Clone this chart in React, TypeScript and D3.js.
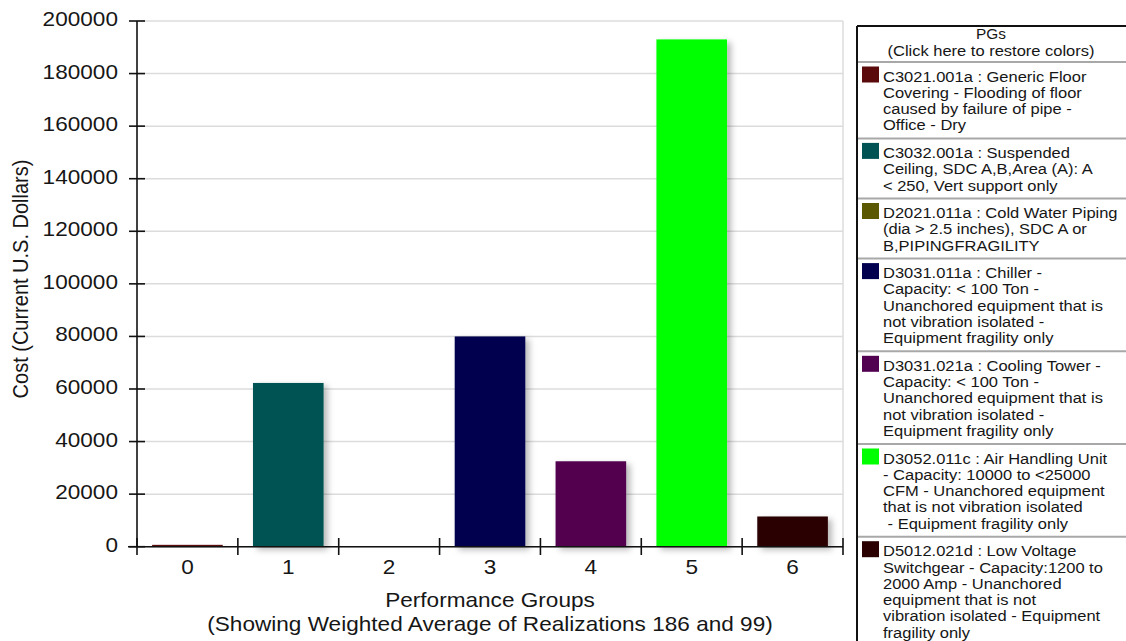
import React from "react";
import * as d3 from "d3";

const categories = ["0", "1", "2", "3", "4", "5", "6"];
const costs = [700, 62300, 0, 80000, 32500, 193000, 11500];
const barColors = ["#5a0a0a", "#005352", "#5a5800", "#00004f", "#520050", "#00ff00", "#2a0000"];
const yTicks = [0, 20000, 40000, 60000, 80000, 100000, 120000, 140000, 160000, 180000, 200000];
const legendTitle = ["PGs", "(Click here to restore colors)"];
const legendLines = [
  ["C3021.001a : Generic Floor", "Covering - Flooding of floor", "caused by failure of pipe -", "Office - Dry"],
  ["C3032.001a : Suspended", "Ceiling, SDC A,B,Area (A): A", "< 250, Vert support only"],
  ["D2021.011a : Cold Water Piping", "(dia > 2.5 inches), SDC A or", "B,PIPINGFRAGILITY"],
  ["D3031.011a : Chiller -", "Capacity: < 100 Ton -", "Unanchored equipment that is", "not vibration isolated -", "Equipment fragility only"],
  ["D3031.021a : Cooling Tower -", "Capacity: < 100 Ton -", "Unanchored equipment that is", "not vibration isolated -", "Equipment fragility only"],
  ["D3052.011c : Air Handling Unit", "- Capacity: 10000 to <25000", "CFM - Unanchored equipment", "that is not vibration isolated", " - Equipment fragility only"],
  ["D5012.021d : Low Voltage", "Switchgear - Capacity:1200 to", "2000 Amp - Unanchored", "equipment that is not", "vibration isolated - Equipment", "fragility only"],
];
const xTitle = ["Performance Groups", "(Showing Weighted Average of Realizations 186 and 99)"];
const yTitle = "Cost (Current U.S. Dollars)";

const W = 1126, H = 641;
const plotLeft = 137, plotRight = 843, plotTop = 21, plotBottom = 546.7;
const FONT = "'Liberation Sans', Arial, sans-serif";
const SX = 1.13;
const LSX = 1.1;

export default function App() {
  const x = d3.scaleBand<string>().domain(categories).range([plotLeft, plotRight]).paddingInner(0.3).paddingOuter(0.15);
  const y = d3.scaleLinear().domain([0, 200000]).range([plotBottom, plotTop]);
  const step = x.step();
  const boundaries = categories.map((c) => (x(c) as number) - step * 0.15).concat([plotRight]);

  // legend layout
  const legLeft = 857, legTop = 26, lineH = 16.3;
  let cursor = 62;
  const entries = legendLines.map((lines, i) => {
    const top = cursor;
    cursor += 11.2 + lines.length * lineH;
    return { lines, top, color: barColors[i] };
  });

  return (
    <svg width={W} height={H} style={{ position: "absolute", left: 0, top: 0, background: "#fff" }} fontFamily={FONT}>
      <defs>
        <filter id="shadow" x="-20%" y="-20%" width="150%" height="150%">
          <feDropShadow dx="4" dy="3" stdDeviation="3" floodColor="#000" floodOpacity="0.28" />
        </filter>
      </defs>
      <rect x={0} y={0} width={W} height={H} fill="#fff" />
      {/* gridlines */}
      {yTicks.map((t) => (
        <line key={"g" + t} x1={plotLeft} x2={plotRight} y1={y(t)} y2={y(t)} stroke="#dcdcdc" strokeWidth={1.5} />
      ))}
      <line x1={plotRight} x2={plotRight} y1={plotTop} y2={plotBottom} stroke="#dcdcdc" strokeWidth={1.5} />
      {/* bars */}
      {costs.map((v, i) =>
        v > 0 ? (
          <rect
            key={"b" + i}
            x={x(categories[i])}
            y={y(v)}
            width={x.bandwidth()}
            height={plotBottom - y(v)}
            fill={barColors[i]}
            filter="url(#shadow)"
          />
        ) : null
      )}
      {/* axes */}
      <line x1={plotLeft} x2={plotLeft} y1={plotTop} y2={plotBottom} stroke="#111" strokeWidth={1.6} />
      <line x1={128} x2={plotRight} y1={plotBottom} y2={plotBottom} stroke="#111" strokeWidth={1.6} />
      {yTicks.map((t) => (
        <g key={"yt" + t}>
          <line x1={129} x2={145} y1={y(t)} y2={y(t)} stroke="#111" strokeWidth={1.6} />
          <text
            transform={`translate(118,${y(t) - 1.5}) scale(${SX},1)`}
            textAnchor="end"
            dominantBaseline="central"
            fontSize={20}
            fill="#161616"
          >
            {t}
          </text>
        </g>
      ))}
      {boundaries.map((b, i) => (
        <line key={"xt" + i} x1={b} x2={b} y1={538} y2={555} stroke="#111" strokeWidth={1.6} />
      ))}
      {categories.map((c) => (
        <text
          key={"xl" + c}
          transform={`translate(${(x(c) as number) + x.bandwidth() / 2},574) scale(${SX},1)`}
          textAnchor="middle"
          fontSize={20}
          fill="#161616"
        >
          {c}
        </text>
      ))}
      {/* axis titles */}
      {xTitle.map((t, i) => (
        <text
          key={"xtt" + i}
          transform={`translate(${(plotLeft + plotRight) / 2},${607 + i * 24}) scale(${SX},1)`}
          textAnchor="middle"
          fontSize={20}
          fill="#161616"
        >
          {t}
        </text>
      ))}
      <text
        transform={`translate(28,279) scale(${SX},1) rotate(-90)`}
        textAnchor="middle"
        fontSize={20}
        fill="#161616"
      >
        {yTitle}
      </text>
      {/* legend */}
      <line x1={legLeft} x2={W + 2} y1={legTop} y2={legTop} stroke="#111" strokeWidth={2} />
      <line x1={legLeft} x2={legLeft} y1={legTop} y2={H + 2} stroke="#111" strokeWidth={2} />
      {legendTitle.map((t, i) => (
        <text
          key={"lt" + i}
          transform={`translate(991,${39 + i * 17}) scale(${LSX},1)`}
          textAnchor="middle"
          fontSize={i === 0 ? 14 : 15}
          fill="#161616"
        >
          {t}
        </text>
      ))}
      {entries.map((e, i) => (
        <g key={"le" + i}>
          <line x1={legLeft + 1} x2={W + 2} y1={e.top} y2={e.top} stroke="#a8a8a8" strokeWidth={2} />
          <rect x={862} y={e.top + 4.5} width={17} height={16} fill={e.color} />
          {e.lines.map((ln, j) => (
            <text
              key={j}
              transform={`translate(883,${e.top + 19.5 + j * lineH}) scale(${LSX},1)`}
              fontSize={15}
              fill="#161616"
              style={{ whiteSpace: "pre" }}
            >
              {ln}
            </text>
          ))}
        </g>
      ))}
    </svg>
  );
}
